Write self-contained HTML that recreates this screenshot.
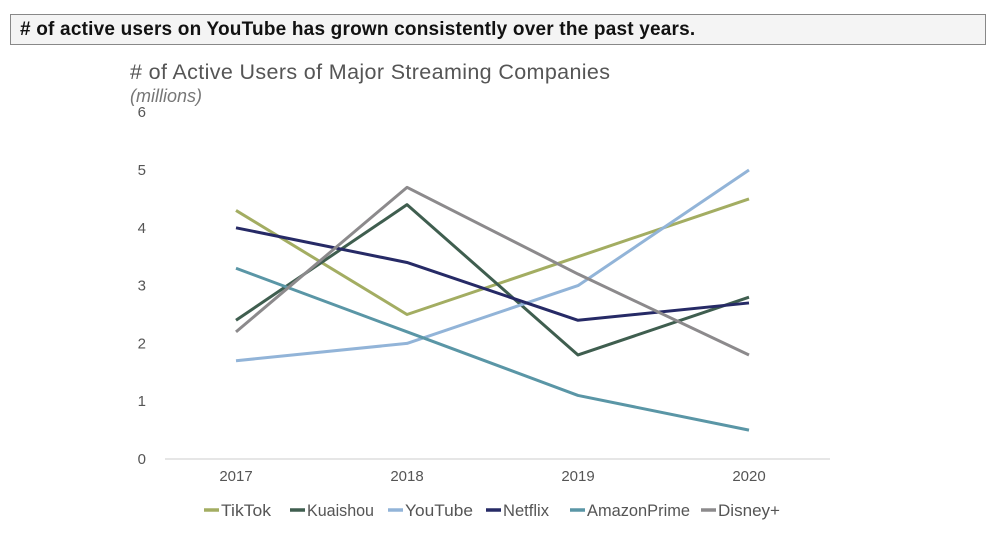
<!DOCTYPE html>
<html><head><meta charset="utf-8"><style>
body{margin:0;width:1000px;height:534px;background:#fff;font-family:"Liberation Sans",sans-serif;overflow:hidden;position:relative}
#hdr{position:absolute;left:10px;top:14px;width:976px;height:31px;border:1px solid #888;background:#f4f4f4;box-sizing:border-box;font-weight:bold;font-size:19px;letter-spacing:0.2px;line-height:30px;padding-left:9px;color:#111}
svg{position:absolute;left:0;top:0}
</style></head><body>
<div id="hdr"># of active users on YouTube has grown consistently over the past years.</div>
<svg id="chart" width="1000" height="534"></svg>
<script>
const categories=["2017","2018","2019","2020"];
const yTicks=[0,1,2,3,4,5,6];
const seriesNames=["TikTok","Kuaishou","YouTube","Netflix","AmazonPrime","Disney+"];
const tiktok=[4.3,2.5,3.5,4.5];
const kuaishou=[2.4,4.4,1.8,2.8];
const youtube=[1.7,2.0,3.0,5.0];
const netflix=[4.0,3.4,2.4,2.7];
const amazon=[3.3,2.2,1.1,0.5];
const disney=[2.2,4.7,3.2,1.8];
const colors=["#a3ad62","#3f5e4f","#92b4d8","#262a66","#5a96a6","#8c8a8c"];
const allSeries=[tiktok,kuaishou,youtube,netflix,amazon,disney];
const NS="http://www.w3.org/2000/svg";
const svg=document.getElementById('chart');
function x(i){return 236+i*171;}
function y(v){return 459-v*57.8;}
function mk(t,a,p){const e=document.createElementNS(NS,t);for(const k in a)e.setAttribute(k,a[k]);(p||svg).appendChild(e);return e;}
let t=mk('text',{x:130,y:79,'font-size':21.5,fill:'#555',textLength:480});t.textContent='# of Active Users of Major Streaming Companies';


t=mk('text',{x:130,y:102,'font-size':18,'font-style':'italic',fill:'#777'});t.textContent='(millions)';


yTicks.forEach(v=>{const l=mk('text',{x:146,y:y(v)+5,'font-size':15,fill:'#555','text-anchor':'end'});l.textContent=v;

});
const ax=mk('line',{x1:165,x2:830,y1:y(0),y2:y(0),stroke:'#ccc','stroke-width':1});


categories.forEach((c,i)=>{const l=mk('text',{x:x(i),y:481,'font-size':15,fill:'#555','text-anchor':'middle'});l.textContent=c;

});
allSeries.forEach((s,k)=>{const p=mk('polyline',{points:s.map((v,i)=>x(i)+','+y(v)).join(' '),fill:'none',stroke:colors[k],'stroke-width':3,'stroke-linejoin':'round'});

});
const lx=[204,290,388,486,570,701];
const lw=[50,67,68,46,103,62];
seriesNames.forEach((n,k)=>{const g=mk('g',{});


mk('line',{x1:lx[k],x2:lx[k]+15,y1:510,y2:510,stroke:colors[k],'stroke-width':3.5},g);
const l=mk('text',{x:lx[k]+17,y:516,'font-size':17,fill:'#555',textLength:lw[k],lengthAdjust:'spacingAndGlyphs'},g);l.textContent=n;});
</script>
</body></html>
